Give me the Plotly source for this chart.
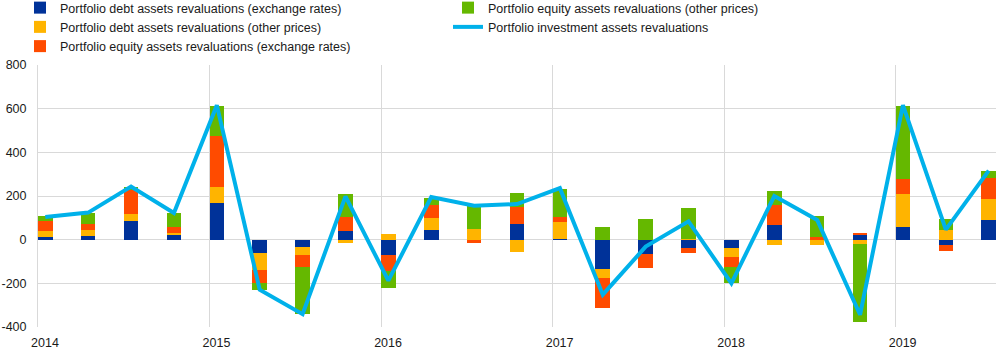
import plotly.graph_objects as go

quarters = ["2014Q1", "2014Q2", "2014Q3", "2014Q4",
            "2015Q1", "2015Q2", "2015Q3", "2015Q4",
            "2016Q1", "2016Q2", "2016Q3", "2016Q4",
            "2017Q1", "2017Q2", "2017Q3", "2017Q4",
            "2018Q1", "2018Q2", "2018Q3", "2018Q4",
            "2019Q1", "2019Q2", "2019Q3"]

debt_fx = [14, 18, 87, 23, 170, -60, -32, 41, -69, 46, -5, 73,
           5, -133, -64, -37, -37, 69, 0, 23, 60, -23, 92]
debt_other = [27, 27, 32, 6, 69, -78, -37, -14, 27, 55, 50, -55,
              78, -41, 0, 5, -41, -23, -23, -18, 147, 46, 96]
equity_fx = [46, 29, 107, 27, 238, -60, -55, 61, -73, 57, -9, 78,
             20, -137, -64, -23, -46, 92, 14, 9, 70, -27, 96]
equity_other = [20, 49, 17, 67, 137, -32, -215, 108, -78, 35, 105, 64,
                131, 60, 96, 142, -73, 60, 96, -357, 337, 50, 32]
total = [104, 124, 243, 122, 616, -229, -341, 198, -188, 195, 155, 163,
         236, -252, -32, 84, -200, 200, 90, -344, 616, 46, 316]

year_labels = ["2014", "2015", "2016", "2017", "2018", "2019"]
y_ticks = [-400, -200, 0, 200, 400, 600, 800]
y_labels = ["-400", "-200", "0", "200", "400", "600", "800"]

names = ["Portfolio debt assets revaluations (exchange rates)",
         "Portfolio debt assets revaluations (other prices)",
         "Portfolio equity assets revaluations (exchange rates)",
         "Portfolio equity assets revaluations (other prices)",
         "Portfolio investment assets revaluations"]
colors = ["#003299", "#FFB400", "#FF4B00", "#65B800", "#00B1EA"]

BAR_W = 0.34
xpos = [i + BAR_W / 2 for i in range(len(quarters))]

fig = go.Figure()
series = [debt_fx, debt_other, equity_fx, equity_other]
# legend order (row-major in a 2-column horizontal legend)
ranks = [1, 3, 5, 2]
for s, name, col, rk in zip(series, names[:4], colors[:4], ranks):
    fig.add_trace(go.Bar(x=xpos, y=s, name=name, width=BAR_W,
                         marker=dict(color=col, line=dict(width=0)),
                         legendrank=rk, customdata=quarters))
fig.add_trace(go.Scatter(x=xpos, y=total, name=names[4], mode="lines",
                         line=dict(color=colors[4], width=4),
                         legendrank=4))

L, R, T, B = 38, 11, 65, 27
PW, PH = 1007 - L - R, 354 - T - B

font = dict(family="Liberation Sans, Arial, sans-serif", size=12.5, color="#1a1a1a")
fig.update_layout(
    width=1007, height=354,
    margin=dict(l=L, r=R, t=T, b=B, autoexpand=False),
    barmode="relative",
    bargap=0,
    paper_bgcolor="white", plot_bgcolor="white",
    font=font,
    showlegend=True,
    legend=dict(orientation="h", xref="paper", yref="paper",
                x=-(L - 20) / PW, y=1 + (T + 7) / PH,
                xanchor="left", yanchor="top",
                entrywidth=383, entrywidthmode="pixels",
                font=font, bgcolor="rgba(0,0,0,0)",
                itemclick=False, itemdoubleclick=False),
    xaxis=dict(range=[0, len(quarters) - 1 + BAR_W],
               tickvals=[4 * i for i in range(len(year_labels))],
               ticktext=year_labels,
               ticklabelshift=7, ticklabelstandoff=6,
               showgrid=True, gridcolor="#d9d9d9", gridwidth=1,
               zeroline=False, showline=False, ticks="", automargin=False),
    yaxis=dict(range=[-400, 800], tickvals=y_ticks, ticktext=y_labels,
               showgrid=True, gridcolor="#d9d9d9", gridwidth=1,
               zeroline=True, zerolinecolor="#d9d9d9", zerolinewidth=1,
               showline=True, linecolor="#d9d9d9", linewidth=1,
               ticks="", ticklabelstandoff=8, automargin=False),
)

fig.write_html("out.html")
